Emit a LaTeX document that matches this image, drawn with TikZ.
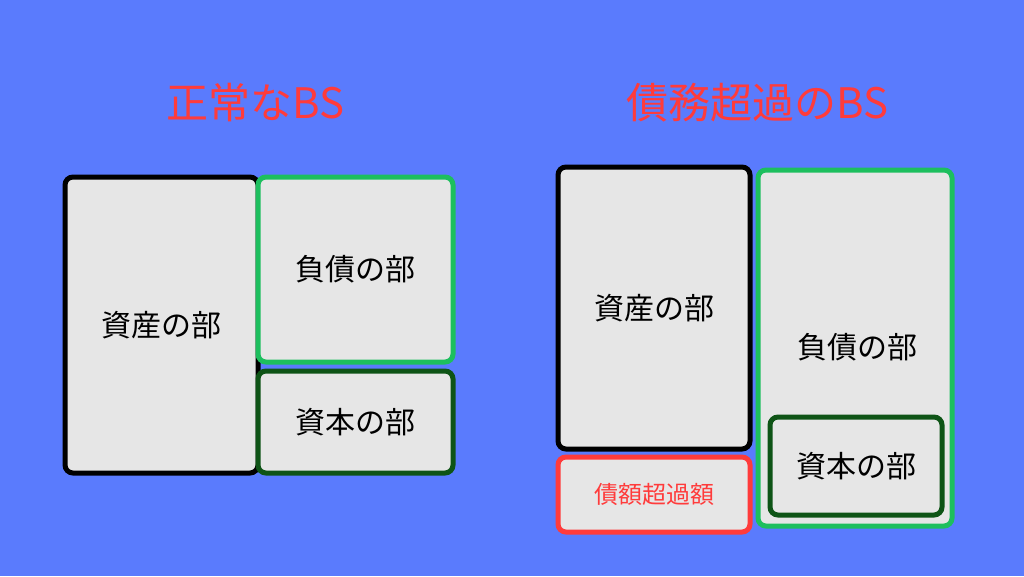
\documentclass[tikz,border=0pt]{standalone}
\usepackage{fontspec}
\setmainfont{Noto Sans CJK JP}
\usepackage{xcolor}
\definecolor{bgblue}{HTML}{5A7BFD}
\definecolor{titlered}{HTML}{FF3B3B}
\definecolor{liabgreen}{HTML}{1DBF5E}
\definecolor{capgreen}{HTML}{0E5416}
\definecolor{boxgray}{HTML}{E6E6E6}

\begin{document}
\begin{tikzpicture}[x=1pt, y=-1pt]
  \tikzstyle{title} = [text=titlered, font=\fontsize{42}{42}\selectfont]
  \tikzstyle{part} = [draw, fill=boxgray, line width=5pt, rounded corners=8pt,
  inner sep=0pt, font=\fontsize{30}{30}\selectfont]

  \fill[bgblue] (0,0) rectangle (1024,576);

  % normal BS
  \node[title] (ltitle) at (255,103) {正常なBS};
  \node[part, minimum width=193, minimum height=296] (lasset) at (161.5,325) {資産の部};
  \node[part, draw=liabgreen, minimum width=195, minimum height=185] (lliab) at (355.5,269.5) {負債の部};
  \node[part, draw=capgreen, minimum width=195, minimum height=102] (lcap) at (355.5,422) {資本の部};

  % insolvent BS
  \node[title] (rtitle) at (757,103) {債務超過のBS};
  \node[part, minimum width=192, minimum height=282] (rasset) at (654,308) {資産の部};
  \node[part, draw=titlered, minimum width=192, minimum height=75, text=titlered,
    font=\fontsize{24}{24}\selectfont] (rdebt) at (654,494.5) {債額超過額};
  \node[part, draw=liabgreen, minimum width=194, minimum height=356, text depth=0pt] (rliab) at (855,348) {};
  \node[font=\fontsize{30}{30}\selectfont] (rliabtext) at (857,347) {負債の部};
  \node[part, draw=capgreen, minimum width=172, minimum height=98] (rcap) at (856,466) {資本の部};
\end{tikzpicture}
\end{document}
